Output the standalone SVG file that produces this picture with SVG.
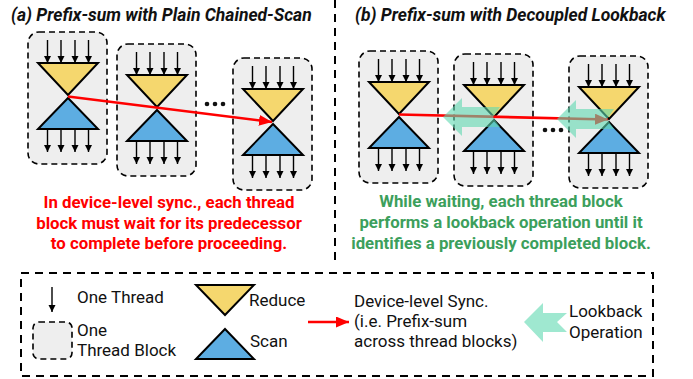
<svg xmlns="http://www.w3.org/2000/svg" xmlns:xlink="http://www.w3.org/1999/xlink" width="693" height="379" viewBox="0 0 693 379">
<style>
.box{fill:#eeeeee;stroke:#000;stroke-width:1.6;stroke-dasharray:6 4}
.thr{stroke:#000;stroke-width:1.4;fill:none;marker-end:url(#ah)}
.red{fill:#f5d76e;stroke:#000;stroke-width:2;stroke-linejoin:miter}
.scn{fill:#5dade2;stroke:#000;stroke-width:2;stroke-linejoin:miter}
.sync{stroke:#ff0000;stroke-width:2.6;fill:none;marker-end:url(#rh)}
.lb{fill:#5fd8b0;opacity:0.6}
.ttl{font-family:Roboto,"Liberation Sans",sans-serif;font-weight:bold;font-style:italic;font-size:17.5px;fill:#111}
.note{font-family:Roboto,"Liberation Sans",sans-serif;font-weight:bold;font-size:16.8px;text-anchor:middle}
.leg{font-family:Roboto,"Liberation Sans",sans-serif;font-size:17px;fill:#111}
.dash{stroke:#000;stroke-width:2;stroke-dasharray:8 6;fill:none}
</style>
<defs>
<marker id="ah" markerUnits="userSpaceOnUse" markerWidth="8" markerHeight="8" refX="7" refY="3.5" orient="auto"><path d="M0,0 L7,3.5 L0,7 z" fill="#000"/></marker>
<marker id="rh" markerUnits="userSpaceOnUse" markerWidth="14" markerHeight="12" refX="13" refY="5.5" orient="auto"><path d="M0,0 L13,5.5 L0,11 z" fill="#ff0000"/></marker>
<g id="blk">
<rect class="box" x="-40" y="-31" width="79" height="132" rx="11"/>
<line class="thr" x1="-20.5" y1="-23" x2="-20.5" y2="0"/>
<line class="thr" x1="-7" y1="-23" x2="-7" y2="0"/>
<line class="thr" x1="7" y1="-23" x2="7" y2="0"/>
<line class="thr" x1="20.5" y1="-23" x2="20.5" y2="0"/>
<polygon class="red" points="-30,0 30,0 0,32"/>
<polygon class="scn" points="0,35 30,66 -30,66"/>
<line class="thr" x1="-20.5" y1="66" x2="-20.5" y2="89"/>
<line class="thr" x1="-7" y1="66" x2="-7" y2="89"/>
<line class="thr" x1="7" y1="66" x2="7" y2="89"/>
<line class="thr" x1="20.5" y1="66" x2="20.5" y2="89"/>
</g>
<path id="lbArrow" d="M0,0 L19,-19 L19,-10 L57,-10 L50,0 L57,10 L19,10 L19,19 z"/>
</defs>

<line class="dash" x1="335" y1="0" x2="335" y2="266" stroke-width="1.8"/>

<text class="ttl" x="11" y="21">(a) Prefix-sum with Plain Chained-Scan</text>
<text class="ttl" x="355" y="21">(b) Prefix-sum with Decoupled Lookback</text>

<g id="a1" transform="translate(68,63)"><use xlink:href="#blk"/></g>
<g id="a2" transform="translate(157,75)"><use xlink:href="#blk"/></g>
<g id="a3" transform="translate(273,89)"><use xlink:href="#blk"/></g>
<g id="b1" transform="translate(399,82)"><use xlink:href="#blk"/></g>
<g id="b2" transform="translate(494,85)"><use xlink:href="#blk"/></g>
<g id="b3" transform="translate(609,87)"><use xlink:href="#blk"/></g>

<g id="dots" fill="#111">
<circle cx="207" cy="104" r="2.3"/><circle cx="215" cy="104" r="2.3"/><circle cx="223" cy="104" r="2.3"/>
<circle cx="545" cy="130" r="2.3"/><circle cx="553" cy="130" r="2.3"/><circle cx="561" cy="130" r="2.3"/>
</g>

<g id="connectors">
<line class="sync" x1="68" y1="96.5" x2="272" y2="122"/>
<line class="sync" x1="399" y1="114.5" x2="608" y2="119.5"/>
<use class="lb" xlink:href="#lbArrow" transform="translate(443,117)"/>
<use class="lb" xlink:href="#lbArrow" transform="translate(557,119)"/>
</g>

<text class="note" fill="#ff0000"><tspan x="169" y="208">In device-level sync., each thread</tspan><tspan x="169" y="228.5">block must wait for its predecessor</tspan><tspan x="169" y="249">to complete before proceeding.</tspan></text>
<text class="note" fill="#3c9f5c"><tspan x="501" y="207">While waiting, each thread block</tspan><tspan x="501" y="228">performs a lookback operation until it</tspan><tspan x="501" y="249">identifies a previously completed block.</tspan></text>

<g id="legend">
<rect class="dash" x="21" y="273" width="632" height="103"/>
<line class="thr" x1="52" y1="287" x2="52" y2="312"/>
<text class="leg" x="77" y="303">One Thread</text>
<rect class="box" x="33" y="322" width="39" height="37" rx="6"/>
<text class="leg" x="77" y="336">One</text>
<text class="leg" x="77" y="356">Thread Block</text>
<polygon class="red" points="196,285 254,285 225,315"/>
<text class="leg" x="249" y="306">Reduce</text>
<polygon class="scn" points="225,329 254,359 196,359"/>
<text class="leg" x="250" y="347">Scan</text>
<line class="sync" x1="308" y1="322" x2="349" y2="322"/>
<text class="leg" x="354" y="307">Device-level Sync.</text>
<text class="leg" x="354" y="327">(i.e. Prefix-sum</text>
<text class="leg" x="354" y="347">across thread blocks)</text>
<path d="M524,322 L543,303 L543,313 L567,313 L557,322 L567,332 L543,332 L543,342 z" fill="#5fd8b0" opacity="0.6"/>
<text class="leg" x="569" y="317">Lookback</text>
<text class="leg" x="569" y="338">Operation</text>
</g>
</svg>
